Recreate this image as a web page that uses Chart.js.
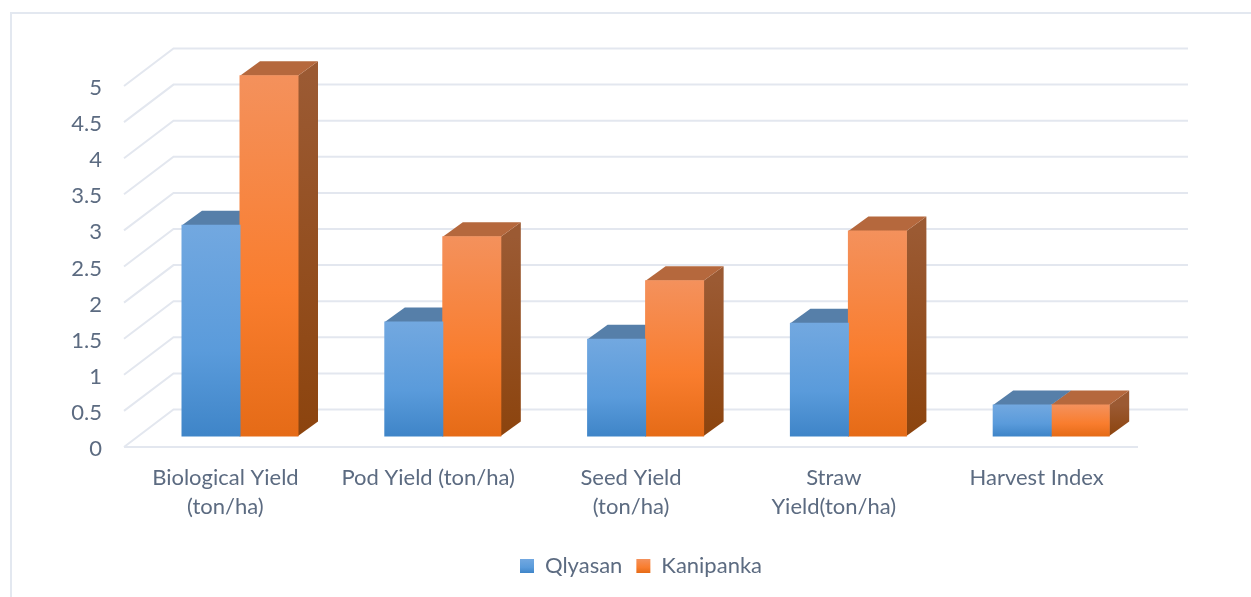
<!DOCTYPE html>
<html>
<head>
<meta charset="utf-8">
<title>Yield comparison</title>
<script src="https://cdn.jsdelivr.net/npm/chart.js@4/dist/chart.umd.min.js"></script>
<style>
  html, body { margin: 0; padding: 0; background: #fff; overflow: hidden; }
  #frame { position: absolute; left: 10px; top: 12px; right: 0; bottom: 0;
           border-left: 2px solid #e3e8f0; border-top: 2px solid #e3e8f0; }
  canvas { position: absolute; left: 0; top: 0; }
</style>
</head>
<body>
<div id="frame"></div>
<canvas id="yieldChart" width="1251" height="597"></canvas>
<script>
const categories = [
  ['Biological Yield', '(ton/ha)'],
  'Pod Yield (ton/ha)',
  ['Seed Yield', '(ton/ha)'],
  ['Straw', 'Yield(ton/ha)'],
  'Harvest Index'
];
const qlyasan = [2.92, 1.58, 1.34, 1.56, 0.43];
const kanipanka = [4.99, 2.76, 2.15, 2.84, 0.43];
const yTickLabels = ['0', '0.5', '1', '1.5', '2', '2.5', '3', '3.5', '4', '4.5', '5'];

const textColor = '#5c6b81';
const gridColor = '#e3e7ef';
const fontFamily = 'Lato, "Open Sans", sans-serif';

// Depth of the floor, and the part of it that lies in front of the bars
const wallDx = 49.5, wallDy = -37.5;
const barDx = 14.6, barDy = -11;
// How far a bar's own box extends backwards
const depthDx = 20, depthDy = -14.5;

const palette = [
  { front: ['#72a8e0', '#5a9bdb', '#3f85c8'], top: '#567fa9', side: ['#54799f', '#3f6a94'], edge: '#86b5e4' },
  { front: ['#f4915c', '#f97d2e', '#e56b17'], top: '#b5683d', side: ['#9b5a33', '#8c440e'], edge: '#f7a26f' }
];

function frontGradient(ctx, colors, top, bottom) {
  const g = ctx.createLinearGradient(0, top, 0, bottom);
  g.addColorStop(0, colors[0]);
  g.addColorStop(0.6, colors[1]);
  g.addColorStop(1, colors[2]);
  return g;
}

function barFill(setIndex) {
  return (c) => {
    if (c.type !== 'data') return palette[setIndex].front[1];
    const y = c.chart.scales.y;
    return frontGradient(c.chart.ctx, palette[setIndex].front, y.getPixelForValue(c.parsed.y), y.getPixelForValue(0));
  };
}

function poly(ctx, pts, fill) {
  ctx.beginPath();
  pts.forEach((p, i) => (i ? ctx.lineTo(p[0], p[1]) : ctx.moveTo(p[0], p[1])));
  ctx.closePath();
  ctx.fillStyle = fill;
  ctx.fill();
}

// Walls and floor lines, one per y tick
const wallGrid = {
  id: 'wallGrid',
  beforeDatasetsDraw(chart) {
    const { ctx, scales: { x, y } } = chart;
    ctx.save();
    ctx.strokeStyle = gridColor;
    ctx.lineWidth = 2;
    y.ticks.forEach((t) => {
      const py = y.getPixelForValue(t.value);
      ctx.beginPath();
      ctx.moveTo(x.left, py);
      ctx.lineTo(x.left + wallDx, py + wallDy);
      ctx.lineTo(x.right + wallDx + 0.5, py + wallDy);
      ctx.stroke();
    });
    ctx.beginPath();
    ctx.moveTo(x.left, y.bottom);
    ctx.lineTo(x.right, y.bottom);
    ctx.stroke();
    ctx.restore();
  }
};

// Top and side faces of each bar; the library draws the fronts over them
const barBoxes = {
  id: 'barBoxes',
  beforeDatasetsDraw(chart) {
    const { ctx } = chart;
    ctx.save();
    ctx.translate(barDx, barDy);
    categories.forEach((_, i) => {
      [0, 1].forEach((s) => {
        const bar = chart.getDatasetMeta(s).data[i];
        const l = bar.x - bar.width / 2, r = bar.x + bar.width / 2;
        const sideFill = ctx.createLinearGradient(0, bar.y, 0, bar.base);
        sideFill.addColorStop(0, palette[s].side[0]);
        sideFill.addColorStop(1, palette[s].side[1]);
        poly(ctx, [[r, bar.y], [r + depthDx, bar.y + depthDy], [r + depthDx, bar.base + depthDy], [r, bar.base]], sideFill);
        poly(ctx, [[l, bar.y], [l + depthDx, bar.y + depthDy], [r + depthDx, bar.y + depthDy], [r, bar.y]], palette[s].top);
      });
    });
    ctx.restore();
    // Fronts share the same shift, released again after the datasets
    ctx.save();
    ctx.translate(barDx, barDy);
  },
  afterDatasetsDraw(chart) {
    chart.ctx.restore();
  },
  afterLayout(chart) {
    // Legend is centred further right than the plot padding leaves it
    chart.legend.left += 72;
    chart.legend.right += 72;
  }
};

const canvas = document.getElementById('yieldChart');
new Chart(canvas.getContext('2d'), {
  type: 'bar',
  data: {
    labels: categories,
    datasets: [
      { label: 'Qlyasan', data: qlyasan, backgroundColor: barFill(0), borderWidth: 0, inflateAmount: 0.5, clip: false },
      { label: 'Kanipanka', data: kanipanka, backgroundColor: barFill(1), borderWidth: 0, inflateAmount: 0.5, clip: false }
    ]
  },
  plugins: [wallGrid, barBoxes],
  options: {
    responsive: false,
    animation: false,
    layout: { padding: { top: 86, right: 113, bottom: 10, left: 0 } },
    datasets: { bar: { categoryPercentage: 0.572, barPercentage: 1 } },
    scales: {
      x: {
        grid: { display: false },
        border: { display: false },
        afterFit(axis) { axis.height = 94; },
        ticks: {
          color: textColor,
          font: { family: fontFamily, size: 22, lineHeight: 1.34 },
          maxRotation: 0,
          autoSkip: false,
          padding: 8
        }
      },
      y: {
        min: 0,
        max: 5,
        grid: { display: false },
        border: { display: false },
        afterFit(axis) { axis.width = 124; },
        ticks: {
          stepSize: 0.5,
          color: textColor,
          font: { family: fontFamily, size: 22 },
          padding: 14,
          labelOffset: 2,
          callback: (v, i) => yTickLabels[i]
        }
      }
    },
    plugins: {
      title: { display: false },
      tooltip: { enabled: false },
      legend: {
        position: 'bottom',
        labels: {
          color: textColor,
          font: { family: fontFamily, size: 22 },
          boxWidth: 14,
          boxHeight: 14,
          padding: 14,
          generateLabels(chart) {
            return chart.data.datasets.map((d, i) => ({
              text: d.label,
              fontColor: textColor,
              fillStyle: frontGradient(chart.ctx, palette[i].front, 559, 573),
              strokeStyle: palette[i].edge,
              lineWidth: 0,
              datasetIndex: i
            }));
          }
        }
      }
    }
  }
});
</script>
</body>
</html>
